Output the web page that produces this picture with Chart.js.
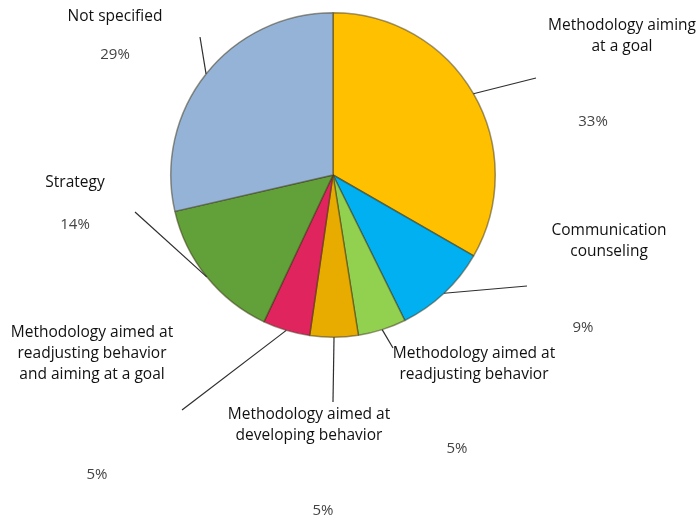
<!DOCTYPE html>
<html>
<head>
<meta charset="utf-8">
<script src="https://cdn.jsdelivr.net/npm/chart.js@4.4.1/dist/chart.umd.min.js"></script>
<style>
  html, body { margin: 0; padding: 0; background: #fff; }
  #wrap { position: relative; width: 696px; height: 520px; }
</style>
</head>
<body>
<div id="wrap"><canvas id="pie"></canvas></div>
<script>
// Slice data, clockwise from 12 o'clock
const categories = [
    ['Methodology aiming', 'at a goal'],
    ['Communication', 'counseling'],
    ['Methodology aimed at', 'readjusting behavior'],
    ['Methodology aimed at', 'developing behavior'],
    ['Methodology aimed at', 'readjusting behavior', 'and aiming at a goal'],
    ['Strategy'],
    ['Not specified']
];
const shares = [33.3, 9.4, 4.8, 4.8, 4.7, 14.4, 28.6];
const sliceColors = ['#FFC000', '#00B0F0', '#92D050', '#E8AC00', '#E0245E', '#62A03A', '#95B3D7'];

// Where each label sits (name centre, percent centre, leader line end)
const labelLayout = [
    { name: [622, 26], pct: [593, 122], end: [536, 78] },
    { name: [609, 231], pct: [583, 328], end: [527, 286] },
    { name: [474, 354], pct: [457, 449], end: [393, 348] },
    { name: [309, 415], pct: [323, 511], end: [333, 402] },
    { name: [92, 333], pct: [97, 475], end: [182, 410] },
    { name: [75, 183], pct: [75, 225], end: [135, 212] },
    { name: [115, 17], pct: [115, 55], end: [200, 37] }
];

// Draws category names, percentages and leader lines
const outsideLabels = {
    id: 'outsideLabels',
    afterDatasetsDraw(chart) {
        const ctx = chart.ctx;
        const arcs = chart.getDatasetMeta(0).data;
        const total = shares.reduce((a, b) => a + b, 0);
        ctx.save();
        arcs.forEach((arc, i) => {
            const lay = labelLayout[i];
            const mid = (arc.startAngle + arc.endAngle) / 2;
            const sx = arc.x + Math.cos(mid) * arc.outerRadius;
            const sy = arc.y + Math.sin(mid) * arc.outerRadius;

            ctx.strokeStyle = '#2e2e2e';
            ctx.lineWidth = 1.2;
            ctx.beginPath();
            ctx.moveTo(sx, sy);
            ctx.lineTo(lay.end[0], lay.end[1]);
            ctx.stroke();

            ctx.textAlign = 'center';
            ctx.textBaseline = 'middle';
            ctx.fillStyle = '#111';
            ctx.font = '15.5px "Open Sans", sans-serif';
            categories[i].forEach((line, k) => {
                ctx.fillText(line, lay.name[0], lay.name[1] + k * 21);
            });

            ctx.fillStyle = '#444';
            ctx.font = '15px "Open Sans", sans-serif';
            ctx.fillText(Math.round(shares[i] / total * 100) + '%', lay.pct[0], lay.pct[1]);
        });
        ctx.restore();
    }
};

const canvas = document.getElementById('pie');
canvas.width = 696;
canvas.height = 520;

new Chart(canvas.getContext('2d'), {
    type: 'pie',
    data: {
        labels: categories.map(c => c.join(' ')),
        datasets: [{
            data: shares,
            backgroundColor: sliceColors,
            borderColor: 'rgba(60, 50, 20, 0.5)',
            borderWidth: 1.5
        }]
    },
    options: {
        responsive: false,
        animation: false,
        layout: {
            padding: { top: 12, bottom: 182, left: 0, right: 30 }
        },
        plugins: {
            legend: { display: false },
            tooltip: { enabled: false }
        }
    },
    plugins: [outsideLabels]
});
</script>
</body>
</html>
